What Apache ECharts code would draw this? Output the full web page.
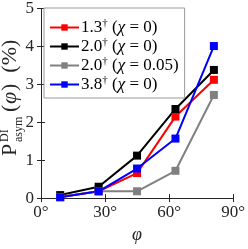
<!DOCTYPE html>
<html><head><meta charset="utf-8">
<script src="https://cdn.jsdelivr.net/npm/echarts@6/dist/echarts.min.js"></script>
<style>html,body{margin:0;padding:0;background:#fff}#c{width:248px;height:249px}</style>
</head><body><div id="c"></div>
<script>
var phi = [9, 27, 45, 63, 81];
var seriesNames = ['1.3|0', '2.0|0', '2.0|0.05', '3.8|0'];
var red = [0.03, 0.18, 0.66, 2.15, 3.12];
var black = [0.08, 0.30, 1.12, 2.35, 3.38];
var gray = [0.03, 0.18, 0.18, 0.72, 2.72];
var blue = [0.02, 0.18, 0.78, 1.57, 4.01];
var colors = ['#ff0000', '#000000', '#808080', '#0000ff'];
var xTicks = [0, 30, 60, 90];
var yTicks = [0, 1, 2, 3, 4, 5];

var values = [red, black, gray, blue];
var F = '"Liberation Serif", "DejaVu Serif", serif';
var chart = echarts.init(document.getElementById('c'));
var series = values.map(function (v, i) {
  return {
    name: seriesNames[i], type: 'line',
    data: phi.map(function (p, j) { return [p, v[j]]; }),
    symbol: 'rect', symbolSize: 8, showSymbol: true,
    itemStyle: { color: colors[i] },
    lineStyle: { color: colors[i], width: 2 },
    animation: false
  };
});
var axisCommon = {
  axisLine: { show: true, lineStyle: { color: '#262626', width: 1 } },
  axisTick: { show: true, inside: true, length: 4, lineStyle: { color: '#262626' } },
  splitLine: { show: false }
};
chart.setOption({
  animation: false,
  grid: { left: 41, top: 7, right: 11, bottom: 45 },
  xAxis: [
    Object.assign({ type: 'value', min: 0, max: 90, interval: 30, position: 'bottom',
      axisLabel: { formatter: '{value}°', fontFamily: F, fontSize: 17, color: '#262626', margin: 6 },
      name: 'φ', nameLocation: 'middle', nameGap: 25,
      nameTextStyle: { fontFamily: F, fontStyle: 'italic', fontSize: 18, color: '#262626' } }, axisCommon),
    Object.assign({ type: 'value', min: 0, max: 90, interval: 30, position: 'top',
      axisLabel: { show: false } }, axisCommon)
  ],
  yAxis: [
    Object.assign({ type: 'value', min: 0, max: 5, interval: 1, position: 'left',
      axisLabel: { fontFamily: F, fontSize: 17, color: '#262626', margin: 7 } }, axisCommon),
    Object.assign({ type: 'value', min: 0, max: 5, interval: 1, position: 'right',
      axisLabel: { show: false } }, axisCommon)
  ],
  legend: {
    left: 44, top: 8, orient: 'vertical', itemGap: 0, itemWidth: 29, itemHeight: 8,
    padding: [10, 6, 4, 5],
    borderColor: '#9a9a9a', borderWidth: 1, backgroundColor: '#fff',
    data: seriesNames,
    formatter: function (n) {
      var p = n.split('|');
      return '{n|' + p[0] + '}{s|†}{n| (}{i|χ}{n| = ' + p[1] + ')}';
    },
    textStyle: {
      fontFamily: F, fontSize: 17, color: '#000', padding: [0, 0, 0, -3], lineHeight: 19,
      rich: {
        n: { fontFamily: F, fontSize: 17, color: '#000', lineHeight: 19 },
        i: { fontFamily: F, fontSize: 17, fontStyle: 'italic', color: '#000', lineHeight: 19 },
        s: { fontFamily: F, fontSize: 11, color: '#000', verticalAlign: 'top', lineHeight: 19, padding: [0, 0, 6, 0] }
      }
    }
  },
  graphic: [{
    type: 'group', x: 21, y: 156, rotation: Math.PI / 2,
    children: [
      { type: 'text', x: 0, y: 0, style: { text: 'P', font: '22px ' + F, fill: '#262626', verticalAlign: 'bottom' } },
      { type: 'text', x: 14, y: -10, style: { text: 'DI', font: '12px ' + F, fill: '#262626', verticalAlign: 'bottom' } },
      { type: 'text', x: 14, y: 4, style: { text: 'asym', font: '12px ' + F, fill: '#262626', verticalAlign: 'bottom' } },
      { type: 'text', x: 44, y: 0, style: { text: '(', font: '22px ' + F, fill: '#262626', verticalAlign: 'bottom' } },
      { type: 'text', x: 52, y: 0, style: { text: 'φ', font: 'italic 22px ' + F, fill: '#262626', verticalAlign: 'bottom' } },
      { type: 'text', x: 65, y: 0, style: { text: ')  (%)', font: '22px ' + F, fill: '#262626', verticalAlign: 'bottom' } }
    ]
  }],
  series: series
});
</script></body></html>
